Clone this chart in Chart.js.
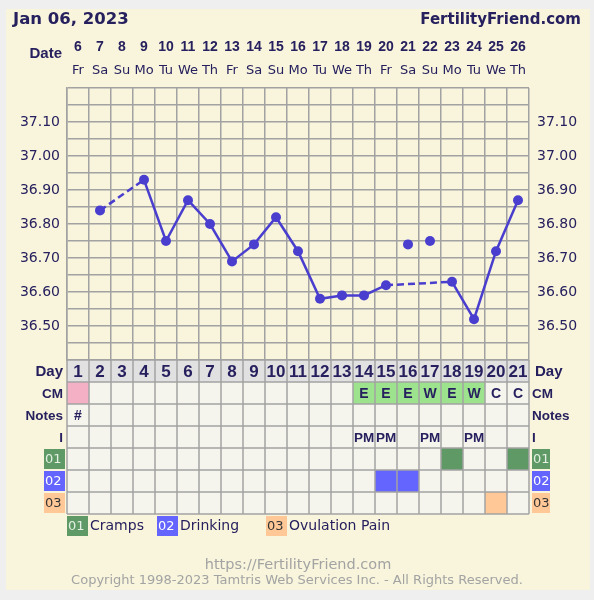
<!DOCTYPE html>
<html>
<head>
<meta charset="utf-8">
<title>Fertility chart</title>
<script src="https://cdn.jsdelivr.net/npm/chart.js@4/dist/chart.umd.min.js"></script>
<style>
  html, body { margin: 0; padding: 0; background: #efefef; }
  canvas { display: block; }
</style>
</head>
<body>
<canvas id="chart" width="594" height="600"></canvas>
<script>
const days = [1, 2, 3, 4, 5, 6, 7, 8, 9, 10, 11, 12, 13, 14, 15, 16, 17, 18, 19, 20, 21]
const dates = ['6', '7', '8', '9', '10', '11', '12', '13', '14', '15', '16', '17', '18', '19', '20', '21', '22', '23', '24', '25', '26']
const weekdays = ['Fr', 'Sa', 'Su', 'Mo', 'Tu', 'We', 'Th', 'Fr', 'Sa', 'Su', 'Mo', 'Tu', 'We', 'Th', 'Fr', 'Sa', 'Su', 'Mo', 'Tu', 'We', 'Th']

// charted temperatures (null = not recorded / discarded)
const temps = [null, 36.84, null, 36.93, 36.75, 36.87, 36.80, 36.69, 36.74, 36.82, 36.72, 36.58, 36.59, 36.59, 36.62, null, null, 36.63, 36.52, 36.72, 36.87]
// discarded temperatures, shown as loose points
const discardedTemps = [null, null, null, null, null, null, null, null, null, null, null, null, null, null, null, 36.74, 36.75, null, null, null, null]

const periodDays = [1]
const cervicalMucus = ['', '', '', '', '', '', '', '', '', '', '', '', '', 'E', 'E', 'E', 'W', 'E', 'W', 'C', 'C']
const notes = ['#', '', '', '', '', '', '', '', '', '', '', '', '', '', '', '', '', '', '', '', '']
const intercourse = ['', '', '', '', '', '', '', '', '', '', '', '', '', 'PM', 'PM', '', 'PM', '', 'PM', '', '']

const symptomNames = ['Cramps', 'Drinking', 'Ovulation Pain']
const symptomDays = [[18, 21], [15, 16], [20]]

const navy = '#27205e'
const lineColor = '#4a3ecf'
const gridColor = '#a2a2a2'
const symptomColors = ['#5f9a66', '#6464ff', '#ffc896']
const symptomText = ['#e4f0e4', '#ffffff', '#333333']

const boldFont = '"Liberation Sans", Arial, sans-serif'
const plainFont = '"DejaVu Sans", Verdana, sans-serif'

function tempLabel(value) {
  const k = Math.round(value * 100)
  if (k % 10 !== 0 || k <= 3640 || k >= 3720) return ''
  return (k / 100).toFixed(2)
}

function drawText(ctx, text, x, y, font, color, align) {
  ctx.font = font
  ctx.fillStyle = color
  ctx.textAlign = align || 'center'
  ctx.textBaseline = 'middle'
  ctx.fillText(text, x, y)
}

function drawBadge(ctx, label, index, x, y, w, h) {
  ctx.fillStyle = symptomColors[index]
  ctx.fillRect(x, y, w, h)
  drawText(ctx, label, x + 1, y + h / 2 + 1, '13px ' + plainFont, symptomText[index], 'left')
}

function cellFill(row, day) {
  if (row === 0) return '#e1e1e1'
  if (row === 1) {
    if (periodDays.includes(day)) return '#f4b1c5'
    const cm = cervicalMucus[day - 1]
    if (cm === 'E' || cm === 'W') return '#9de38e'
  }
  if (row >= 4) {
    const s = row - 4
    if (symptomDays[s].includes(day)) return symptomColors[s]
  }
  return '#f5f5ee'
}

function cellText(row, day) {
  if (row === 0) return String(day)
  if (row === 1) return cervicalMucus[day - 1]
  if (row === 2) return notes[day - 1]
  if (row === 3) return intercourse[day - 1]
  return ''
}

const chartDecor = {
  id: 'chartDecor',
  beforeDraw(chart) {
    const { ctx } = chart
    ctx.save()
    ctx.fillStyle = '#f8f5dc'
    ctx.fillRect(6, 9, 584, 581)
    ctx.restore()
  },
  afterDraw(chart) {
    const { ctx, chartArea } = chart
    const x = chart.scales.x
    const colW = x.width / days.length
    const rowH = 22
    const top = chartArea.bottom
    const rows = 7
    ctx.save()

    // header
    drawText(ctx, 'Jan 06, 2023', 13, 20, 'bold 16.5px ' + plainFont, navy, 'left')
    drawText(ctx, 'FertilityFriend.com', 581, 20, 'bold 15px ' + plainFont, navy, 'right')
    drawText(ctx, 'Date', 62, 54, 'bold 15px ' + boldFont, navy, 'right')

    // table cells
    for (let r = 0; r < rows; r++) {
      days.forEach((day, i) => {
        ctx.fillStyle = cellFill(r, day)
        ctx.fillRect(x.getPixelForValue(i) - colW / 2, top + r * rowH, colW, rowH)
      })
    }
    ctx.strokeStyle = gridColor
    ctx.lineWidth = 1.5
    ctx.beginPath()
    for (let r = 0; r <= rows; r++) {
      ctx.moveTo(x.left, top + r * rowH)
      ctx.lineTo(x.right, top + r * rowH)
    }
    for (let i = 0; i <= days.length; i++) {
      const px = x.left + i * colW
      ctx.moveTo(px, top)
      ctx.lineTo(px, top + rows * rowH)
    }
    ctx.stroke()

    const cellFonts = ['bold 17px ', 'bold 14px ', 'bold 14px ', 'bold 13.5px ']
    for (let r = 0; r < 4; r++) {
      days.forEach((day, i) => {
        const t = cellText(r, day)
        if (!t) return
        drawText(ctx, t, x.getPixelForValue(i), top + r * rowH + rowH / 2 + 1, cellFonts[r] + boldFont, navy)
      })
    }

    // row titles
    const rowTitles = ['Day', 'CM', 'Notes', 'I']
    rowTitles.forEach((t, r) => {
      const size = r === 0 ? 15 : 13.5
      const cy = top + r * rowH + rowH / 2 + 1
      drawText(ctx, t, x.left - 4, cy, 'bold ' + size + 'px ' + boldFont, navy, 'right')
      drawText(ctx, t, x.right + (r === 0 ? 6 : 3), cy, 'bold ' + size + 'px ' + boldFont, navy, 'left')
    })
    symptomNames.forEach((name, s) => {
      const y0 = top + (4 + s) * rowH + 1
      const label = '0' + (s + 1)
      drawBadge(ctx, label, s, x.left - 23, y0, 21, rowH - 2)
      drawBadge(ctx, label, s, x.right + 3, y0, 18, rowH - 2)
    })

    // legend
    const legendY = top + rows * rowH + 2
    const legendX = [x.left, x.left + 90, x.left + 199]
    symptomNames.forEach((name, s) => {
      drawBadge(ctx, '0' + (s + 1), s, legendX[s], legendY, 21, 20)
      drawText(ctx, name, legendX[s] + 23, legendY + 10, '14px ' + plainFont, navy, 'left')
    })

    // footer
    drawText(ctx, 'https://FertilityFriend.com', 298, 565, '14.5px ' + plainFont, '#a3a3a3')
    drawText(ctx, 'Copyright 1998-2023 Tamtris Web Services Inc. - All Rights Reserved.', 297, 581, '13px ' + plainFont, '#a3a3a3')
    ctx.restore()
  },
}

const yTicks = {
  stepSize: 0.05,
  autoSkip: false,
  callback: tempLabel,
  color: navy,
  font: { family: plainFont, size: 14 },
}

new Chart(document.getElementById('chart'), {
  type: 'line',
  data: {
    labels: days,
    datasets: [
      {
        data: temps,
        xAxisID: 'x',
        yAxisID: 'y',
        spanGaps: true,
        borderColor: lineColor,
        backgroundColor: lineColor,
        borderWidth: 2.5,
        pointRadius: 5,
        pointBorderWidth: 0,
        segment: {
          // dashed where the line jumps over missing days
          borderDash: (ctx) => (temps[ctx.p0DataIndex] == null ? [7, 4] : undefined),
        },
      },
      {
        data: discardedTemps,
        xAxisID: 'x',
        yAxisID: 'y',
        showLine: false,
        borderColor: lineColor,
        backgroundColor: lineColor,
        pointRadius: 5,
        pointBorderWidth: 0,
      },
    ],
  },
  options: {
    responsive: false,
    animation: false,
    layout: { padding: { top: 0, left: 0, right: 0, bottom: 230 } },
    plugins: {
      legend: { display: false },
      tooltip: { enabled: false },
    },
    scales: {
      x: {
        type: 'category',
        position: 'bottom',
        offset: true,
        grid: { color: gridColor, lineWidth: 1.5, offset: true, drawTicks: false },
        border: { color: gridColor, width: 1.5 },
        ticks: { display: false },
        afterFit: (s) => { s.height = 10 },
      },
      xDate: {
        type: 'category',
        labels: dates,
        position: 'top',
        weight: 1,
        offset: true,
        grid: { display: false, drawTicks: false },
        border: { display: false },
        ticks: { color: navy, font: { family: boldFont, size: 14, weight: 'bold' }, padding: 6, autoSkip: false, maxRotation: 0 },
        afterFit: (s) => { s.height = 62 },
      },
      xDow: {
        type: 'category',
        labels: weekdays,
        position: 'top',
        weight: 0,
        offset: true,
        grid: { display: false, drawTicks: false },
        border: { display: false },
        ticks: { color: navy, font: { family: plainFont, size: 13 }, padding: 10, autoSkip: false, maxRotation: 0 },
        afterFit: (s) => { s.height = 26 },
      },
      y: {
        position: 'left',
        min: 36.4,
        max: 37.2,
        grid: { color: gridColor, lineWidth: 1.5, drawTicks: false },
        border: { color: gridColor, width: 1.5 },
        ticks: { ...yTicks, padding: 7 },
        afterFit: (s) => { s.width = 67 },
      },
      y2: {
        position: 'right',
        min: 36.4,
        max: 37.2,
        grid: { display: false, drawTicks: false },
        border: { display: false },
        ticks: { ...yTicks, padding: 8 },
        afterFit: (s) => { s.width = 65 },
      },
    },
  },
  plugins: [chartDecor],
})
</script>
</body>
</html>
